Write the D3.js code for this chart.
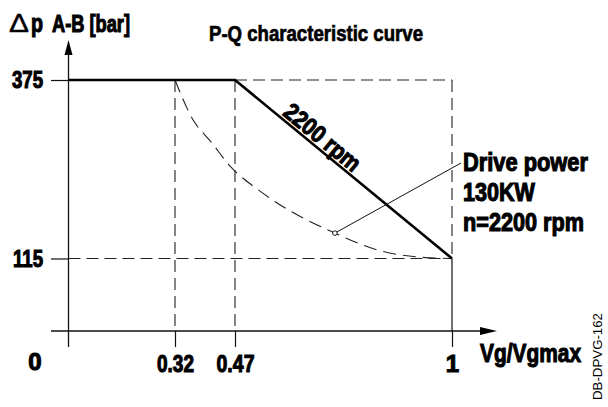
<!DOCTYPE html>
<html>
<head>
<meta charset="utf-8">
<script src="https://cdn.jsdelivr.net/npm/d3@7"></script>
<style>
body{margin:0;background:#fff;}
svg{display:block;}
text{font-family:"Liberation Sans",Arial,sans-serif;font-weight:bold;fill:#000;stroke:#000;stroke-width:0.7px;}
text.heavy{stroke-width:1.1px;}
</style>
</head>
<body>
<script>
//tick values on both axes
var xTicks = [0.32, 0.47, 1];
var yTicks = [375, 115];
//2200 rpm limit line (Vg/Vgmax , bar)
var limitV = [0, 0.47, 1];
var limitP = [375, 375, 115];
//constant drive power curve
var powerV = [0.32, 0.365, 0.41, 0.46, 0.52, 0.57, 0.714, 0.82, 0.92, 1];
var powerP = [375, 317, 285, 248, 218, 197, 152, 127, 117, 115];
//marked point on the power curve
var markV = 0.714, markP = 152;
var powerLabel = ["Drive power", "130KW", "n=2200 rpm"];

(function(){
    var width = 608, height = 407;

    var svg = d3.select("body").append("svg")
        .attr("width", width)
        .attr("height", height);

    //the original uses a condensed face, squeeze the glyphs to its widths
    function fit(sel, w){
        if (w) sel.attr("textLength", w).attr("lengthAdjust", "spacingAndGlyphs");
        return sel;
    }

    //schematic drawing, so scales are piecewise
    var x = d3.scaleLinear().domain([0, 0.32, 0.47, 1]).range([68.5, 175, 235, 452]);
    var y = d3.scaleLinear().domain([0, 115, 375]).range([331, 258.5, 80]);

    var x0 = x(0), y0 = y(0);

    //dashed guide lines
    var dash = "12,6";
    var guides = [
        [[0.47, 375], [1, 375]],
        [[0, 115], [1, 115]],
        [[0.32, 375], [0.32, 0]],
        [[0.47, 375], [0.47, 0]],
        [[1, 375], [1, 115]]
    ];
    svg.selectAll(".guide")
        .data(guides)
        .enter()
        .append("line")
        .attr("class", "guide")
        .attr("x1", function(d){ return x(d[0][0]); })
        .attr("y1", function(d){ return y(d[0][1]); })
        .attr("x2", function(d){ return x(d[1][0]); })
        .attr("y2", function(d){ return y(d[1][1]); })
        .attr("stroke", "#222")
        .attr("stroke-width", 1.1)
        .attr("stroke-dasharray", dash);

    //solid part under the end point
    svg.append("line")
        .attr("x1", x(1)).attr("x2", x(1))
        .attr("y1", y(115)).attr("y2", y0)
        .attr("stroke", "#111").attr("stroke-width", 1.2);

    //axes lines
    svg.append("line")
        .attr("x1", 51).attr("x2", 482)
        .attr("y1", y0).attr("y2", y0)
        .attr("stroke", "#111").attr("stroke-width", 1.3);
    svg.append("line")
        .attr("x1", x0).attr("x2", x0)
        .attr("y1", 347).attr("y2", 52)
        .attr("stroke", "#111").attr("stroke-width", 1.3);
    //arrow heads
    svg.append("path")
        .attr("d", "M" + 497 + "," + y0 + "L480," + (y0 - 4) + "L480," + (y0 + 4) + "Z")
        .attr("fill", "#000");
    svg.append("path")
        .attr("d", "M" + x0 + ",40L" + (x0 - 4) + ",55L" + (x0 + 4) + ",55Z")
        .attr("fill", "#000");

    //label widths in the original
    var tickWidth = {"0.32": 37, "0.47": 38, "375": 31, "115": 30};

    //x axis ticks and labels
    var xAxis = d3.axisBottom(x).tickValues(xTicks).tickSize(16).tickPadding(8)
        .tickFormat(function(d){ return d === 1 ? "1" : d3.format(".2f")(d); });
    var gx = svg.append("g")
        .attr("transform", "translate(0," + y0 + ")")
        .call(xAxis);
    gx.select(".domain").remove();
    gx.selectAll("line").attr("stroke", "#111").attr("stroke-width", 1.2);
    gx.selectAll("text").attr("font-size", 24).attr("fill", "#000").attr("class", "heavy")
        .each(function(d){ fit(d3.select(this), tickWidth[d3.select(this).text()]); });
    gx.attr("font-family", null).attr("font-size", null);

    //y axis ticks and labels
    var yAxis = d3.axisLeft(y).tickValues(yTicks).tickSize(x0 - 51).tickPadding(8);
    var gy = svg.append("g")
        .attr("transform", "translate(" + x0 + ",0)")
        .call(yAxis);
    gy.select(".domain").remove();
    gy.selectAll("line").attr("stroke", "#111").attr("stroke-width", 1.2);
    gy.selectAll("text").attr("font-size", 24).attr("fill", "#000").attr("class", "heavy")
        .each(function(d){ fit(d3.select(this), tickWidth[d3.select(this).text()]); });
    gy.attr("font-family", null).attr("font-size", null);

    //origin label
    svg.append("text")
        .attr("x", 35).attr("y", 370)
        .attr("text-anchor", "middle")
        .attr("font-size", 24)
        .attr("class", "heavy")
        .text("0");

    //constant power curve
    var powerLine = d3.line()
        .x(function(d){ return x(d[0]); })
        .y(function(d){ return y(d[1]); })
        .curve(d3.curveMonotoneX);
    svg.append("path")
        .datum(d3.zip(powerV, powerP))
        .attr("d", powerLine)
        .attr("fill", "none")
        .attr("stroke", "#222")
        .attr("stroke-width", 1.1)
        .attr("stroke-dasharray", "13,7");

    //2200 rpm limit line
    var limitLine = d3.line()
        .x(function(d){ return x(d[0]); })
        .y(function(d){ return y(d[1]); });
    svg.append("path")
        .datum(d3.zip(limitV, limitP))
        .attr("d", limitLine)
        .attr("fill", "none")
        .attr("stroke", "#000")
        .attr("stroke-width", 2.6)
        .attr("stroke-linejoin", "miter");

    //label along the slope
    var ax = x(0.47), ay = y(375), bx = x(1), by = y(115);
    var angle = Math.atan2(by - ay, bx - ax) * 180 / Math.PI;
    var t = 0.37;
    fit(svg.append("text")
        .attr("transform", "translate(" + (ax + (bx - ax) * t) + "," + (ay + (by - ay) * t) + ") rotate(" + angle + ")")
        .attr("text-anchor", "middle")
        .attr("dy", -3)
        .attr("font-size", 24)
        .attr("class", "heavy")
        .text("2200 rpm"), 92);

    //leader and marker
    var mx = x(markV), my = y(markP);
    svg.append("line")
        .attr("x1", mx).attr("y1", my)
        .attr("x2", 461).attr("y2", 163)
        .attr("stroke", "#111").attr("stroke-width", 1);
    svg.append("circle")
        .attr("cx", mx).attr("cy", my).attr("r", 2.3)
        .attr("fill", "#fff").attr("stroke", "#111").attr("stroke-width", 1);

    var labelWidth = [125, 72, 121];
    svg.selectAll(".plabel")
        .data(powerLabel)
        .enter()
        .append("text")
        .attr("class", "plabel heavy")
        .attr("x", 463)
        .attr("y", function(d, i){ return 171 + i * 30; })
        .attr("font-size", 25)
        .attr("textLength", function(d, i){ return labelWidth[i]; })
        .attr("lengthAdjust", "spacingAndGlyphs")
        .text(function(d){ return d; });

    //titles
    fit(svg.append("text")
        .attr("x", 209).attr("y", 41)
        .attr("font-size", 22)
        .text("P-Q characteristic curve"), 214);
    //delta sign is drawn in a lighter weight
    fit(svg.append("text")
        .attr("x", 9).attr("y", 32)
        .attr("font-size", 26)
        .style("font-weight", "normal")
        .style("stroke-width", "0.4px")
        .text("\u0394"), 20);
    fit(svg.append("text")
        .attr("x", 31).attr("y", 32)
        .attr("font-size", 25)
        .attr("class", "heavy")
        .text("p"), 12);
    fit(svg.append("text")
        .attr("x", 52).attr("y", 32)
        .attr("font-size", 24)
        .attr("class", "heavy")
        .text("A-B [bar]"), 78);
    fit(svg.append("text")
        .attr("x", 480).attr("y", 362)
        .attr("font-size", 26)
        .attr("class", "heavy")
        .text("Vg/Vgmax"), 101);

    //drawing number
    fit(svg.append("text")
        .attr("transform", "translate(602,400) rotate(-90)")
        .style("font-weight", "normal")
        .style("stroke", "none")
        .attr("font-size", 13.5)
        .text("DB-DPVG-162"), 87);
})();
</script>
</body>
</html>
